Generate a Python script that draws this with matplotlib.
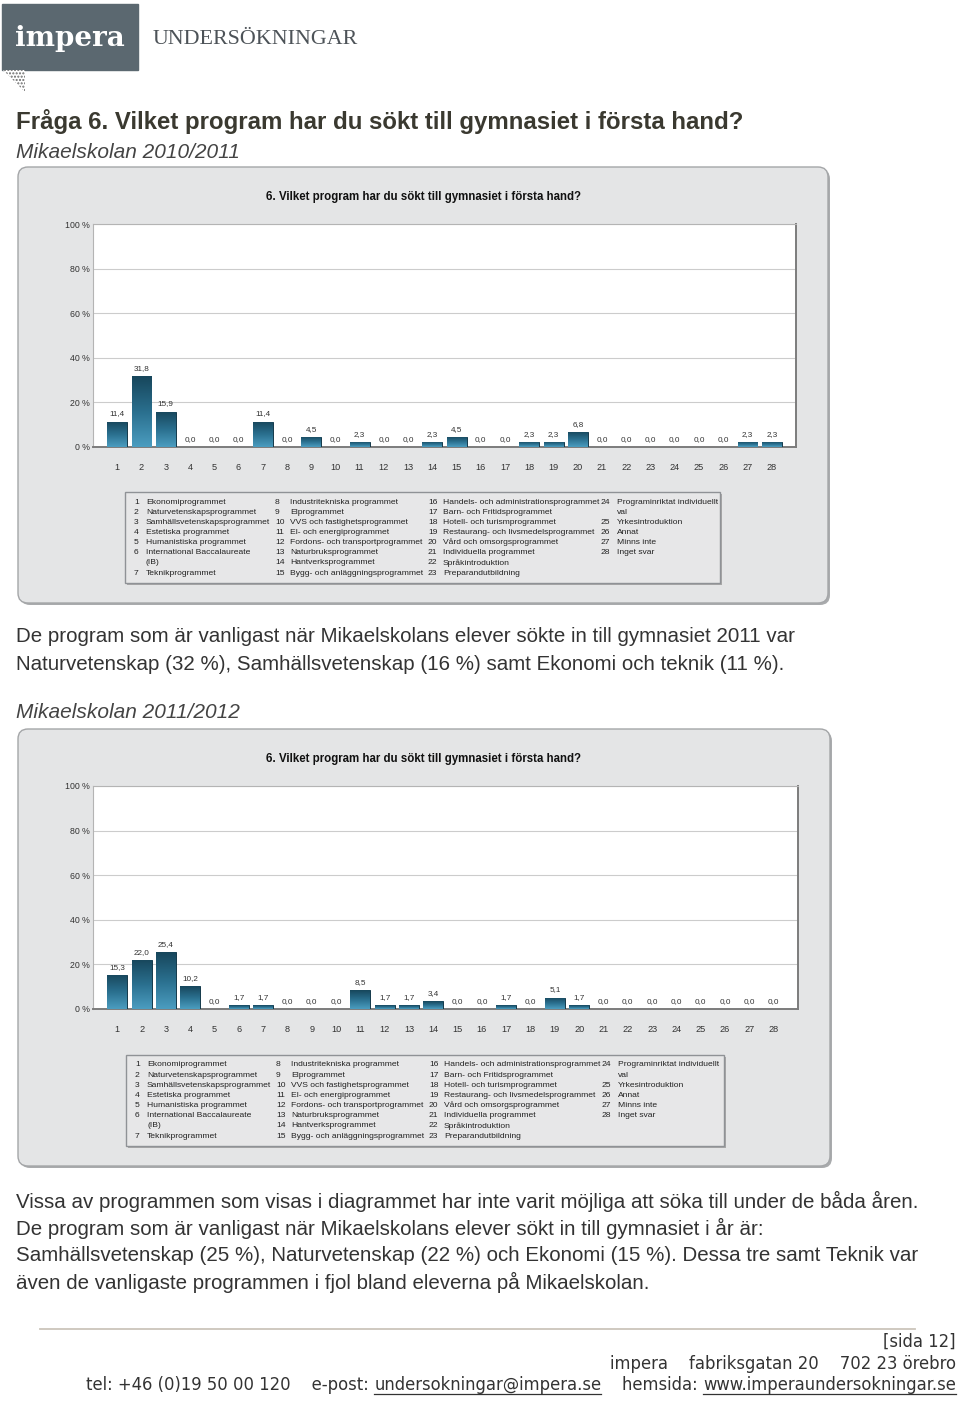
import numpy as np
import matplotlib
matplotlib.use("Agg")
import matplotlib.pyplot as plt
from matplotlib.patches import Rectangle, FancyBboxPatch, Polygon
from matplotlib.colors import LinearSegmentedColormap
from matplotlib import font_manager

plt.rcParams['font.family'] = ['Liberation Sans', 'DejaVu Sans']

# data
program_nr = list(range(1, 29))
andel_2010 = [11.4, 31.8, 15.9, 0.0, 0.0, 0.0, 11.4, 0.0, 4.5, 0.0, 2.3, 0.0, 0.0, 2.3,
              4.5, 0.0, 0.0, 2.3, 2.3, 6.8, 0.0, 0.0, 0.0, 0.0, 0.0, 0.0, 2.3, 2.3]
andel_2011 = [15.3, 22.0, 25.4, 10.2, 0.0, 1.7, 1.7, 0.0, 0.0, 0.0, 8.5, 1.7, 1.7, 3.4,
              0.0, 0.0, 1.7, 0.0, 5.1, 1.7, 0.0, 0.0, 0.0, 0.0, 0.0, 0.0, 0.0, 0.0]
y_ticks = [0, 20, 40, 60, 80, 100]
program_namn = [
    "Ekonomiprogrammet", "Naturvetenskapsprogrammet", "Samhällsvetenskapsprogrammet",
    "Estetiska programmet", "Humanistiska programmet", "International Baccalaureate\n(IB)",
    "Teknikprogrammet", "Industritekniska programmet", "Elprogrammet",
    "VVS och fastighetsprogrammet", "El- och energiprogrammet",
    "Fordons- och transportprogrammet", "Naturbruksprogrammet", "Hantverksprogrammet",
    "Bygg- och anläggningsprogrammet", "Handels- och administrationsprogrammet",
    "Barn- och Fritidsprogrammet", "Hotell- och turismprogrammet",
    "Restaurang- och livsmedelsprogrammet", "Vård och omsorgsprogrammet",
    "Individuella programmet", "Språkintroduktion", "Preparandutbildning",
    "Programinriktat individuellt\nval", "Yrkesintroduktion", "Annat", "Minns inte", "Inget svar"]
legend_kolumner = [(1, 7), (8, 15), (16, 23), (24, 28)]

chart_titel = "6. Vilket program har du sökt till gymnasiet i första hand?"

W, H = 960, 1402
fig = plt.figure(figsize=(W / 100, H / 100), dpi=100)
bg = fig.add_axes([0, 0, 1, 1], zorder=0)
bg.set_xlim(0, W)
bg.set_ylim(H, 0)
bg.axis('off')

text_col = '#333333'
head_col = '#3a3930'
body_fs = 14.8

# logo
bg.add_patch(Rectangle((2, 4), 136, 66, color='#5b6870'))
bg.add_patch(Polygon([(3, 70), (25, 70), (25, 92)], closed=True, facecolor='white',
                     edgecolor='#6a6a6a', hatch='.....', lw=0))
bg.text(70, 38, "impera", color='white', fontsize=20, weight='bold',
        family=['DejaVu Serif'], ha='center', va='center')
bg.text(153, 40, "UNDERSÖKNINGAR", color='#4d5358', fontsize=15.8,
        family=['Liberation Serif'], ha='left', va='center')

# headings and texts
bg.text(16, 122, "Fråga 6. Vilket program har du sökt till gymnasiet i första hand?",
        fontsize=17.3, weight='bold', color=head_col, va='center')
bg.text(16, 152, "Mikaelskolan 2010/2011", fontsize=15, style='italic', color='#444444', va='center')
body1 = ["De program som är vanligast när Mikaelskolans elever sökte in till gymnasiet 2011 var",
         "Naturvetenskap (32 %), Samhällsvetenskap (16 %) samt Ekonomi och teknik (11 %)."]
for i, s in enumerate(body1):
    bg.text(16, 637 + i * 28, s, fontsize=body_fs, color=text_col, va='center')
bg.text(16, 712, "Mikaelskolan 2011/2012", fontsize=15, style='italic', color='#444444', va='center')
body2 = ["Vissa av programmen som visas i diagrammet har inte varit möjliga att söka till under de båda åren.",
         "De program som är vanligast när Mikaelskolans elever sökt in till gymnasiet i år är:",
         "Samhällsvetenskap (25 %), Naturvetenskap (22 %) och Ekonomi (15 %). Dessa tre samt Teknik var",
         "även de vanligaste programmen i fjol bland eleverna på Mikaelskolan."]
for i, s in enumerate(body2):
    bg.text(16, 1201 + i * 27.2, s, fontsize=body_fs, color=text_col, va='center')

cmap = LinearSegmentedColormap.from_list('bar', ['#4b9dc0', '#2a6f8e', '#17465b'])
grad = np.linspace(0, 1, 256).reshape(-1, 1)


def rita_panel(values, px, ax_box, legend_box, title_y):
    x0, y0, x1, y1 = px
    # shadow + panel
    bg.add_patch(FancyBboxPatch((x0 + 2, y0 + 2), x1 - x0, y1 - y0,
                                boxstyle='round,pad=0,rounding_size=10', fc='#a9abad', ec='none'))
    bg.add_patch(FancyBboxPatch((x0, y0), x1 - x0, y1 - y0,
                                boxstyle='round,pad=0,rounding_size=10', fc='#e4e5e6', ec='#a4a6a8', lw=1))
    bg.text(423, title_y, chart_titel, fontsize=8.3,
            weight='bold', ha='center', va='center', color='#111111')

    l, t, r, b = ax_box
    ax = fig.add_axes([l / W, 1 - b / H, (r - l) / W, (b - t) / H], zorder=1)
    ax.set_facecolor('white')
    bars = ax.bar(program_nr, values, width=0.82, color='#2a6f8e', edgecolor='#153a4b', lw=0.7, zorder=3)
    for bar, v in zip(bars, values):
        if v > 0:
            bx = bar.get_x()
            im = ax.imshow(grad, cmap=cmap, origin='lower', aspect='auto', zorder=3.5,
                           extent=(bx, bx + bar.get_width(), 0, v))
            im.set_clip_path(bar)
        ax.annotate(f"{v:.1f}".replace('.', ','), (bar.get_x() + bar.get_width() / 2, v),
                    xytext=(0, 3), textcoords='offset points', ha='center', va='bottom',
                    fontsize=5.9, color='#333333', zorder=5)
    ax.set_xlim(0, 29)
    ax.set_ylim(0, 100)
    ax.set_yticks(y_ticks)
    ax.set_yticklabels([f"{v} %" for v in y_ticks])
    ax.set_xticks(program_nr)
    ax.tick_params(axis='y', length=0, labelsize=6.3, labelcolor='#333333', pad=2)
    ax.tick_params(axis='x', length=0, labelsize=6.6, labelcolor='#333333', pad=11.5)
    ax.grid(axis='y', color='#cccccc', lw=0.8, zorder=0)
    for side in ['left', 'top']:
        ax.spines[side].set_color('#b4b4b4')
        ax.spines[side].set_linewidth(0.8)
    for side in ['right', 'bottom']:
        ax.spines[side].set_color('#7c7c7c')
        ax.spines[side].set_linewidth(1.4)

    # legend box
    lx0, ly0, lx1, ly1 = legend_box
    bg.add_patch(Rectangle((lx0 + 2, ly0 + 2), lx1 - lx0, ly1 - ly0, fc='#a8a8a8', ec='none'))
    bg.add_patch(Rectangle((lx0, ly0), lx1 - lx0, ly1 - ly0, fc='#e7e7e8', ec='#8f9296', lw=1))
    col_x = [(lx0 + 9, lx0 + 21), (lx0 + 150, lx0 + 165), (lx0 + 303, lx0 + 318), (lx0 + 476, lx0 + 492)]
    row_h = 10.15
    for (first, last), (nx, tx) in zip(legend_kolumner, col_x):
        row = 0
        for n in range(first, last + 1):
            y = ly0 + 10 + row * row_h
            bg.text(nx, y, str(n), fontsize=6.1, color='#222222', va='center', ha='left')
            for line in program_namn[n - 1].split('\n'):
                bg.text(tx, ly0 + 10 + row * row_h, line, fontsize=6.1, color='#222222',
                        va='center', ha='left')
                row += 1
    return ax


rita_panel(andel_2010, (18, 167, 828, 603), (93, 224, 796, 447), (125, 492, 720, 583), 197)
rita_panel(andel_2011, (18, 729, 830, 1166), (93, 786, 798, 1009), (126, 1055, 724, 1146), 759)

# footer
bg.plot([40, 915], [1329, 1329], color='#cbc5bb', lw=1.3)
fp = font_manager.FontProperties(family='DejaVu Sans', stretch='condensed')
if 'Condensed' in font_manager.findfont(fp):
    foot_kw = dict(family=['DejaVu Sans'], stretch='condensed')
else:
    foot_kw = dict(family=['Liberation Sans'])

pieces = [("tel: +46 (0)19 50 00 120    e-post: ", False),
          ("undersokningar@impera.se", True),
          ("    hemsida: ", False),
          ("www.imperaundersokningar.se", True)]

# size the footer so the last line spans as in the page
fig.canvas.draw()
renderer = fig.canvas.get_renderer()
probe = bg.text(0, 0, "".join(p for p, _ in pieces), fontsize=10, **foot_kw)
w10 = probe.get_window_extent(renderer).width
probe.remove()
foot_fs = 10 * 871 / w10

bg.text(956, 1342, "[sida 12]", fontsize=foot_fs, color=text_col, ha='right', va='center', **foot_kw)
bg.text(956, 1364, "impera    fabriksgatan 20    702 23 örebro", fontsize=foot_fs,
        color=text_col, ha='right', va='center', **foot_kw)

x_right = 956
inv = bg.transData.inverted()
for s, underline in reversed(pieces):
    t = bg.text(x_right, 1385, s, fontsize=foot_fs, color=text_col,
                ha='right', va='center', **foot_kw)
    ext = t.get_window_extent(renderer)
    (ax0, ay0), (ax1, ay1) = inv.transform([[ext.x0, ext.y0], [ext.x1, ext.y1]])
    if underline:
        bg.plot([ax0, ax1], [1394, 1394], color=text_col, lw=0.9)
    x_right = ax0

fig.savefig("out.png", dpi=100)
